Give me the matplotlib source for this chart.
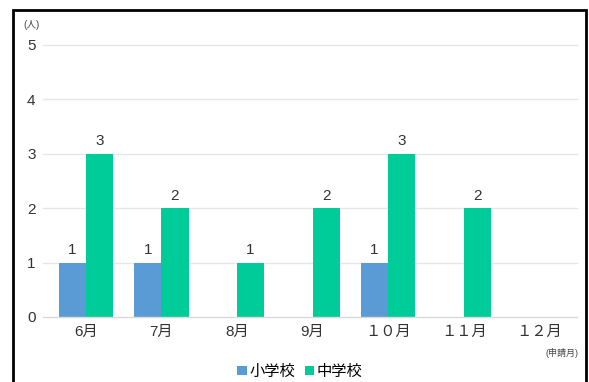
import matplotlib
matplotlib.use("Agg")
from matplotlib import pyplot as plt
from matplotlib.patches import Rectangle
import numpy as np

plt.rcParams['font.family'] = ['Liberation Sans', 'Noto Sans CJK JP', 'DejaVu Sans']

months = ['6月', '7月', '8月', '9月', '１０月', '１１月', '１２月']
elementary = [1, 1, 0, 0, 1, 0, 0]
junior = [3, 2, 1, 2, 3, 2, 0]
series_names = ['小学校', '中学校']

blue = '#5B9BD5'
green = '#00CC99'

fig = plt.figure(figsize=(5.89, 3.82), dpi=100)
ax = fig.add_axes([48 / 589, 1 - 317 / 382, 529 / 589, 272 / 382])

x = np.arange(len(months))
w = 0.36
b1 = ax.bar(x - w / 2, elementary, w, color=blue, label=series_names[0])
b2 = ax.bar(x + w / 2, junior, w, color=green, label=series_names[1])

# ラベル (0 は表示しない)
for bars, vals in [(b1, elementary), (b2, junior)]:
    for bar, v in zip(bars, vals):
        if v > 0:
            ax.text(bar.get_x() + bar.get_width() / 2, v + 0.1, str(v),
                    ha='center', va='bottom', fontsize=11, color='#333333')

ax.set_xlim(-0.5, len(months) - 0.5)
ax.set_ylim(0, 5)
ax.set_yticks(range(6))
ax.set_xticks(x)
ax.set_xticklabels(months)
ax.tick_params(axis='both', length=0, labelsize=11, colors='#333333')
ax.tick_params(axis='x', pad=6)
ax.tick_params(axis='y', pad=9)
ax.set_axisbelow(True)
for s in ax.spines.values():
    s.set_visible(False)
# 目盛線 (プロット領域より少し左から引く)
for yv in range(1, 6):
    ax.axhline(yv, xmin=-0.01, xmax=1, color='#e6e6e6', linewidth=1, clip_on=False, zorder=0)
ax.axhline(0, xmin=-0.01, xmax=1, color='#d9d9d9', linewidth=1, clip_on=False)

fig.text(23 / 589, 1 - 25 / 382, '(人)', fontsize=7, ha='left', va='center', color='#444444')
fig.text(578 / 589, 1 - 353 / 382, '(申請月)', fontsize=6.5, ha='right', va='center', color='#444444')

fig.legend(handles=[b1, b2], loc='center', bbox_to_anchor=(300 / 589, 1 - 372 / 382),
           ncol=2, frameon=False, fontsize=11, handlelength=0.6, handleheight=0.6,
           handletextpad=0.2, columnspacing=0.6)

# 外枠
fig.patches.append(Rectangle((13 / 589, -0.1), (586 - 13) / 589, 1.1 - 10 / 382,
                             transform=fig.transFigure, fill=False, edgecolor='black',
                             linewidth=2))

plt.savefig('out.png', dpi=100)
